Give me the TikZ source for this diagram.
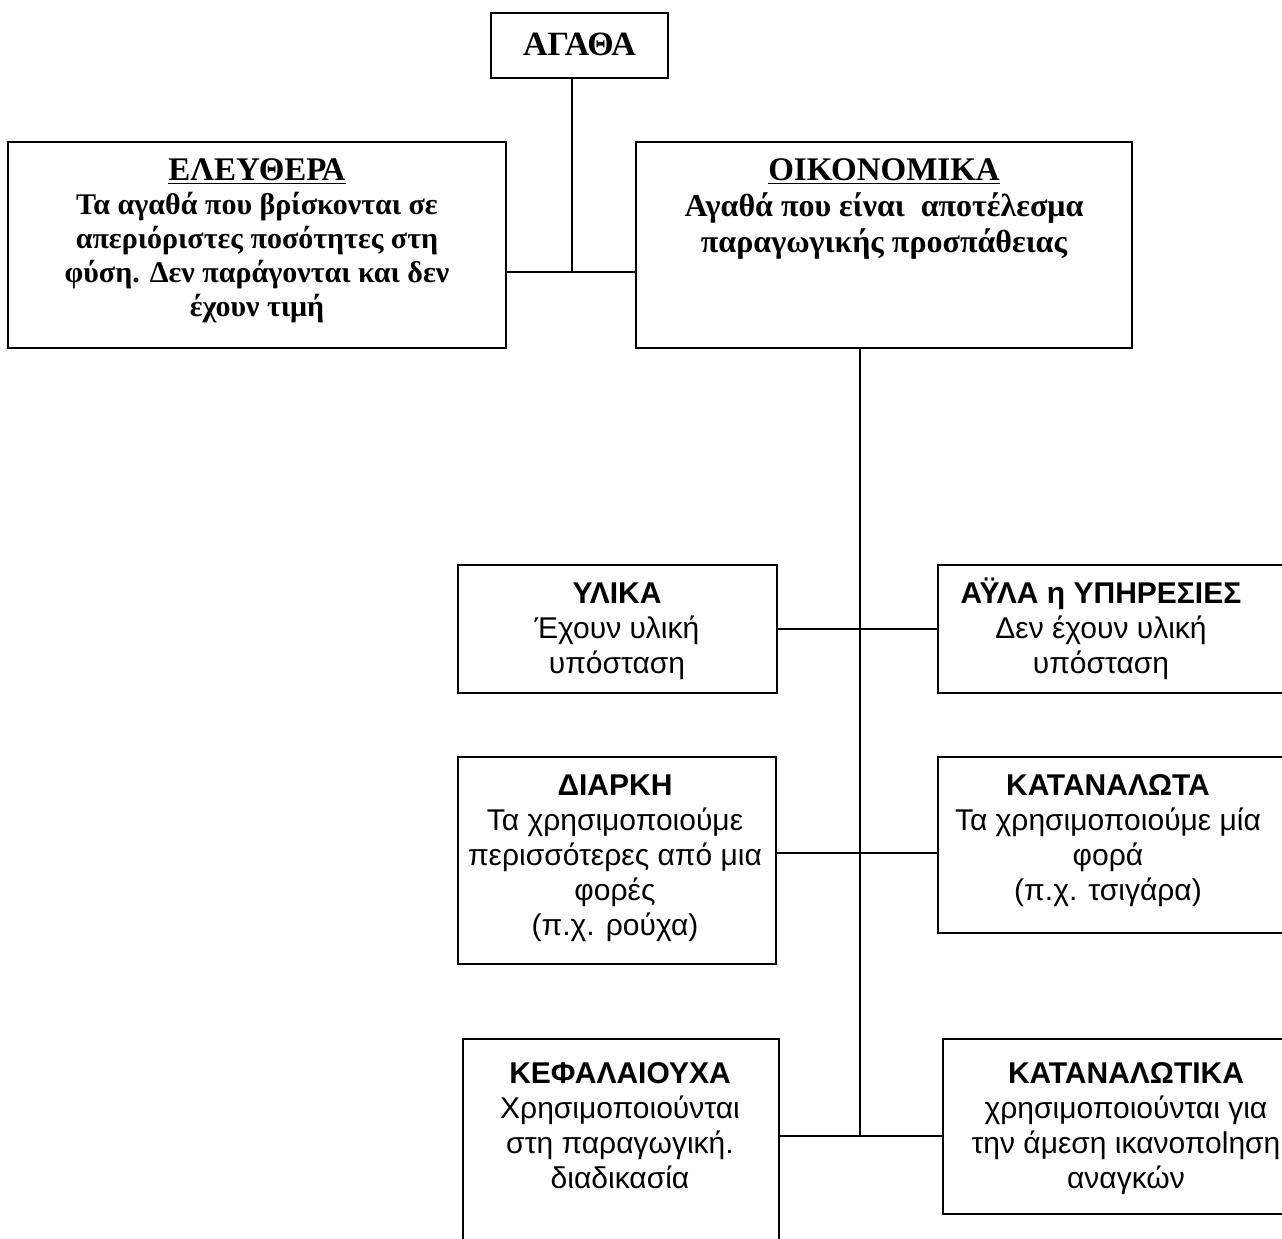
\documentclass[tikz,border=0pt]{standalone}
\usepackage{fontspec}
\setmainfont{Liberation Serif}
\newfontfamily\arialf{Liberation Sans}
\usetikzlibrary{fit}
\begin{document}
\begin{tikzpicture}[x=0.5pt,y=-0.5pt,
  box/.style={draw, line width=1pt, inner sep=0pt},
  serift/.style={font=\bfseries\fontsize{15pt}{17pt}\selectfont, align=center, anchor=base, inner sep=0pt},
  sanst/.style={font=\arialf\fontsize{15pt}{17.5pt}\selectfont, align=center, anchor=base, inner sep=0pt},
  conn/.style={line width=1pt}]
\useasboundingbox (0,0) rectangle (1282,1239);
\clip (0,0) rectangle (1282,1239);
% boxes
\node[box, fit={(491,13) (668,78)}] (agatha) {};
\node[box, fit={(8,142) (506,348)}] (eleu) {};
\node[box, fit={(636,142) (1132,348)}] (oik) {};
\node[box, fit={(458,565) (777,693)}] (ylika) {};
\node[box, fit={(938,565) (1300,693)}] (ayla) {};
\node[box, fit={(458,757) (776,964)}] (diarki) {};
\node[box, fit={(938,757) (1300,933)}] (katanalota) {};
\node[box, fit={(463,1039) (779,1270)}] (kefal) {};
\node[box, fit={(943,1039) (1300,1214)}] (katanalotika) {};
% texts (anchor = baseline of the last line)
\node[serift, font=\bfseries\fontsize{17pt}{17pt}\selectfont] (agathat) at (579.5,55) {ΑΓΑΘΑ};
\node[serift] (eleut) at (257,316) {{\fontsize{16.5pt}{17pt}\selectfont\underline{ΕΛΕΥΘΕΡΑ}}\\Τα αγαθά που βρίσκονται σε\\απεριόριστες ποσότητες στη\\φύση. Δεν παράγονται και δεν\\έχουν τιμή};
\node[serift, font=\bfseries\fontsize{16pt}{18pt}\selectfont] (oikt) at (884,252) {{\fontsize{16.5pt}{18pt}\selectfont\underline{ΟΙΚΟΝΟΜΙΚΑ}}\\Αγαθά που είναι\ \ αποτέλεσμα\\παραγωγικής προσπάθειας};
\node[sanst] (ylikat) at (617,673) {\textbf{ΥΛΙΚΑ}\\Έχουν υλική\\υπόσταση};
\node[sanst] (aylat) at (1101,673) {\textbf{ΑΫΛΑ η ΥΠΗΡΕΣΙΕΣ}\\Δεν έχουν υλική\\υπόσταση};
\node[sanst] (diarkit) at (615,935) {\textbf{ΔΙΑΡΚΗ}\\Τα χρησιμοποιούμε\\περισσότερες από μια\\φορές\\(π.χ. ρούχα)};
\node[sanst] (katanalotat) at (1108,900) {\textbf{ΚΑΤΑΝΑΛΩΤΑ}\\Τα χρησιμοποιούμε μία\\φορά\\(π.χ. τσιγάρα)};
\node[sanst] (kefalt) at (620,1188) {\textbf{ΚΕΦΑΛΑΙΟΥΧΑ}\\Χρησιμοποιούνται\\στη παραγωγική.\\διαδικασία};
\node[sanst] (katanalotikat) at (1126,1188) {\textbf{ΚΑΤΑΝΑΛΩΤΙΚΑ}\\χρησιμοποιούνται για\\την άμεση ικανοποlηση\\αναγκών};
% connectors
\coordinate (j1) at (572,272);
\coordinate (trunk) at (860,1136);
\draw[conn] (agatha.south -| j1) -- (j1);
\draw[conn] (eleu.east |- j1) -- (oik.west |- j1);
\draw[conn] (oik.south -| trunk) -- (trunk);
\draw[conn] (ylika.east |- 0,629) -- (ayla.west |- 0,629);
\draw[conn] (diarki.east |- 0,853) -- (katanalota.west |- 0,853);
\draw[conn] (kefal.east |- trunk) -- (katanalotika.west |- trunk);
\end{tikzpicture}
\end{document}
